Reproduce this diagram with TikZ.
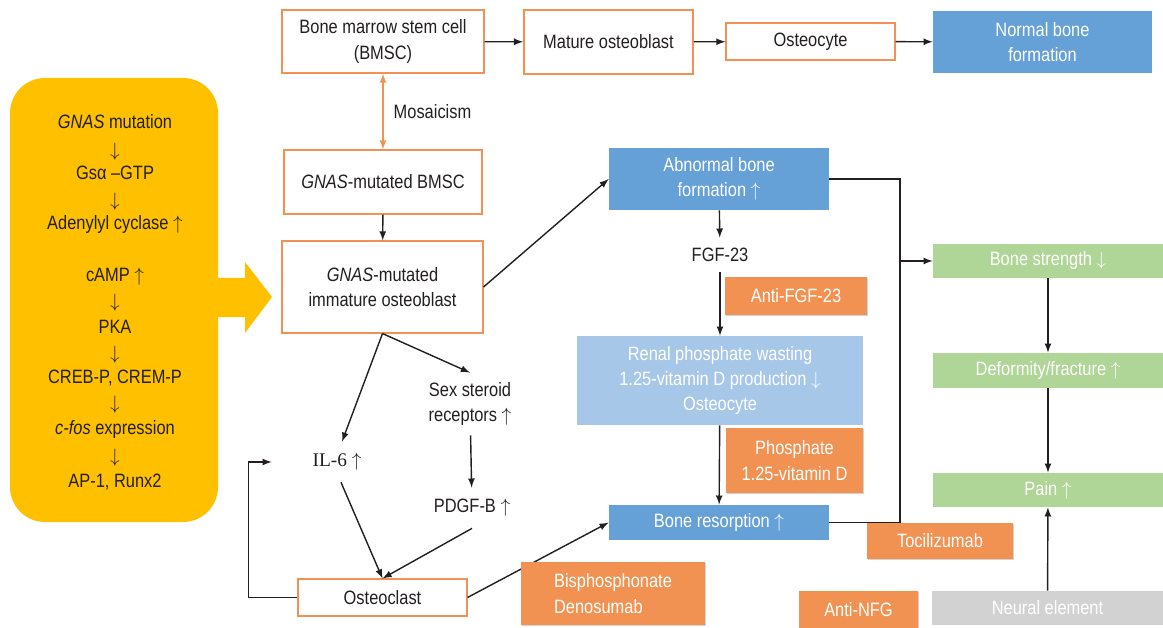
\documentclass[tikz,border=0pt]{standalone}
\usepackage{fontspec}
\setmainfont{Liberation Sans}[FakeStretch=0.85]
\newfontfamily\ilfont{Liberation Serif}
\usetikzlibrary{arrows,shadows,positioning,calc}
\definecolor{boneBlue}{RGB}{101,160,215}
\definecolor{paleBlue}{RGB}{166,199,232}
\definecolor{drugOrange}{RGB}{242,146,82}
\definecolor{sympGreen}{RGB}{175,213,151}
\definecolor{neuralGray}{RGB}{211,210,211}
\definecolor{padYellow}{RGB}{255,192,0}
\definecolor{cellEdge}{RGB}{240,145,85}
\definecolor{txtDark}{RGB}{35,31,32}

\newcommand\up{$\uparrow$}
\newcommand\dn{$\downarrow$}

\tikzset{
  cell/.style 2 args={draw=cellEdge, line width=0.6pt, fill=white, text=txtDark, align=center,
    inner sep=0pt, minimum width={#1*0.02cm}, minimum height={#2*0.02cm}},
  tone/.style n args={3}{fill=#1, text=white, align=center, inner sep=0pt,
    minimum width={#2*0.02cm}, minimum height={#3*0.02cm}},
  drug/.style 2 args={tone={drugOrange}{#1}{#2},
    drop shadow={opacity=0.35, shadow xshift=0.8pt, shadow yshift=-0.8pt}},
  plain/.style 2 args={text=txtDark, align=center, inner sep=0pt,
    minimum width={#1*0.02cm}, minimum height={#2*0.02cm}},
  link/.style={->, line width=0.8pt, txtDark}
}

\begin{document}
\begin{tikzpicture}[x=0.02cm, y=-0.02cm, >=latex,
    every node/.style={font=\fontsize{11}{14.4}\selectfont}]

  \useasboundingbox (0,0) rectangle (1163,628);

  % the yellow signalling pad and its big arrow
  \fill[padYellow, rounded corners=0.7cm] (10,78) rectangle (218,522);
  \fill[padYellow] (216,278) -- (245,278) -- (245,262) -- (272,297) -- (245,333) -- (245,317) -- (216,317) -- cycle;

  \foreach \y/\t [count=\i] in {122/{\textit{GNAS} mutation}, 152/{\dn}, 173/{Gsα –GTP}, 202/{\dn},
      225/{Adenylyl cyclase \up}, 277/{cAMP \up}, 303/{\dn}, 327/{PKA}, 355/{\dn},
      378/{CREB-P, CREM-P}, 405/{\dn}, 430/{\textit{c-fos} expression}, 458/{\dn}, 482/{AP-1, Runx2}}
    \node[text=txtDark] (pad\i) at (115,\y) {\t};

  % cell lineage boxes
  \node[cell={202}{63}] (bmsc) at (383,41.5) {Bone marrow stem cell\\(BMSC)};
  \node[cell={169}{64}, line width=1pt] (mature) at (608.5,42) {Mature osteoblast};
  \node[cell={169}{37}] (osteocyte) at (810.5,41.5) {Osteocyte};
  \node[tone={boneBlue}{219}{62}] (normal) at (1042.5,42) {Normal bone\\formation};
  \node[cell={198}{64}] (gbmsc) at (383,182) {\textit{GNAS}-mutated BMSC};
  \node[cell={201}{92}] (immature) at (382.5,287) {\textit{GNAS}-mutated\\immature osteoblast};

  % mediators
  \node[plain={130}{40}, font=\ilfont\fontsize{11}{14.4}\selectfont] (il6) at (337,462) {IL-6 \up};
  \node[plain={90}{62}] (sex) at (470,404) {Sex steroid\\receptors \up};
  \node[plain={90}{40}] (pdgf) at (472,508) {PDGF-B \up};
  \node[cell={169}{37}] (osteoclast) at (382.5,597.5) {Osteoclast};

  % bone / phosphate column
  \node[tone={boneBlue}{220}{62}] (abnormal) at (719,179) {Abnormal bone\\formation \up};
  \node[plain={80}{34}] (fgf) at (720,255) {FGF-23};
  \node[tone={paleBlue}{286}{89}] (renal) at (720,380.5) {Renal phosphate wasting\\1.25-vitamin D production \dn\\Osteocyte};
  \node[tone={boneBlue}{220}{35}] (resorption) at (719,522.5) {Bone resorption \up};

  % symptoms
  \node[tone={sympGreen}{230}{34}] (strength) at (1048,261) {Bone strength \dn};
  \node[tone={sympGreen}{230}{35}] (deformity) at (1048,370.5) {Deformity/fracture \up};
  \node[tone={sympGreen}{230}{34}] (pain) at (1048,490) {Pain \up};
  \node[tone={neuralGray}{231}{34}] (neural) at (1047.5,608) {Neural element};

  % arrows
  \draw[link] (bmsc) -- (mature);
  \draw[link] (mature) -- (osteocyte);
  \draw[link] (osteocyte) -- (normal);
  \draw[<->, line width=0.8pt, drugOrange] (bmsc) -- node[right, inner sep=0pt, xshift=0.2cm, text=txtDark] (mosaic) {Mosaicism} (gbmsc);
  \draw[link] (gbmsc) -- (immature);
  \draw[link] (immature.east) -- (abnormal.west);
  \draw[link] (immature.south) -- ([xshift=0.1cm]il6.north);
  \draw[link] (immature.south) -- (sex.north);
  \draw[link] (sex) -- (pdgf);
  \draw[link] ([xshift=0.08cm]il6.south) -- (osteoclast.north);
  \draw[link] (pdgf.south) -- (osteoclast.north);
  \draw[link] (osteoclast.west) -- ++(-49,0) |- (il6.west);
  \draw[link] (osteoclast.east) -- (resorption.west);
  \draw[link] (abnormal) -- (fgf);
  \draw[link] (fgf) -- (renal);
  \draw[link] (renal) -- (resorption);

  \coordinate (jtop) at (900,179);
  \coordinate (jbot) at (900,522.5);
  \draw[line width=0.8pt, txtDark] (abnormal.east) -- (jtop) -- (jbot) -- (resorption.east);
  \draw[link] (jtop |- strength.west) -- (strength.west);
  \draw[link] (strength) -- (deformity);
  \draw[link] (deformity) -- (pain);
  \draw[link] (neural) -- (pain);

  % therapies
  \node[drug={142}{38}] (antifgf) at (796,296) {Anti-FGF-23};
  \node[drug={137}{65}] (phosphate) at (794.5,460.5) {Phosphate\\1.25-vitamin D};
  \node[drug={184}{63}, align=left] (bisphos) at (613,593.5) {Bisphosphonate\\Denosumab};
  \node[drug={146}{36}] (tocil) at (940,541) {Tocilizumab};
  \node[drug={119}{37}] (antinfg) at (858.5,609.5) {Anti-NFG};

\end{tikzpicture}
\end{document}
